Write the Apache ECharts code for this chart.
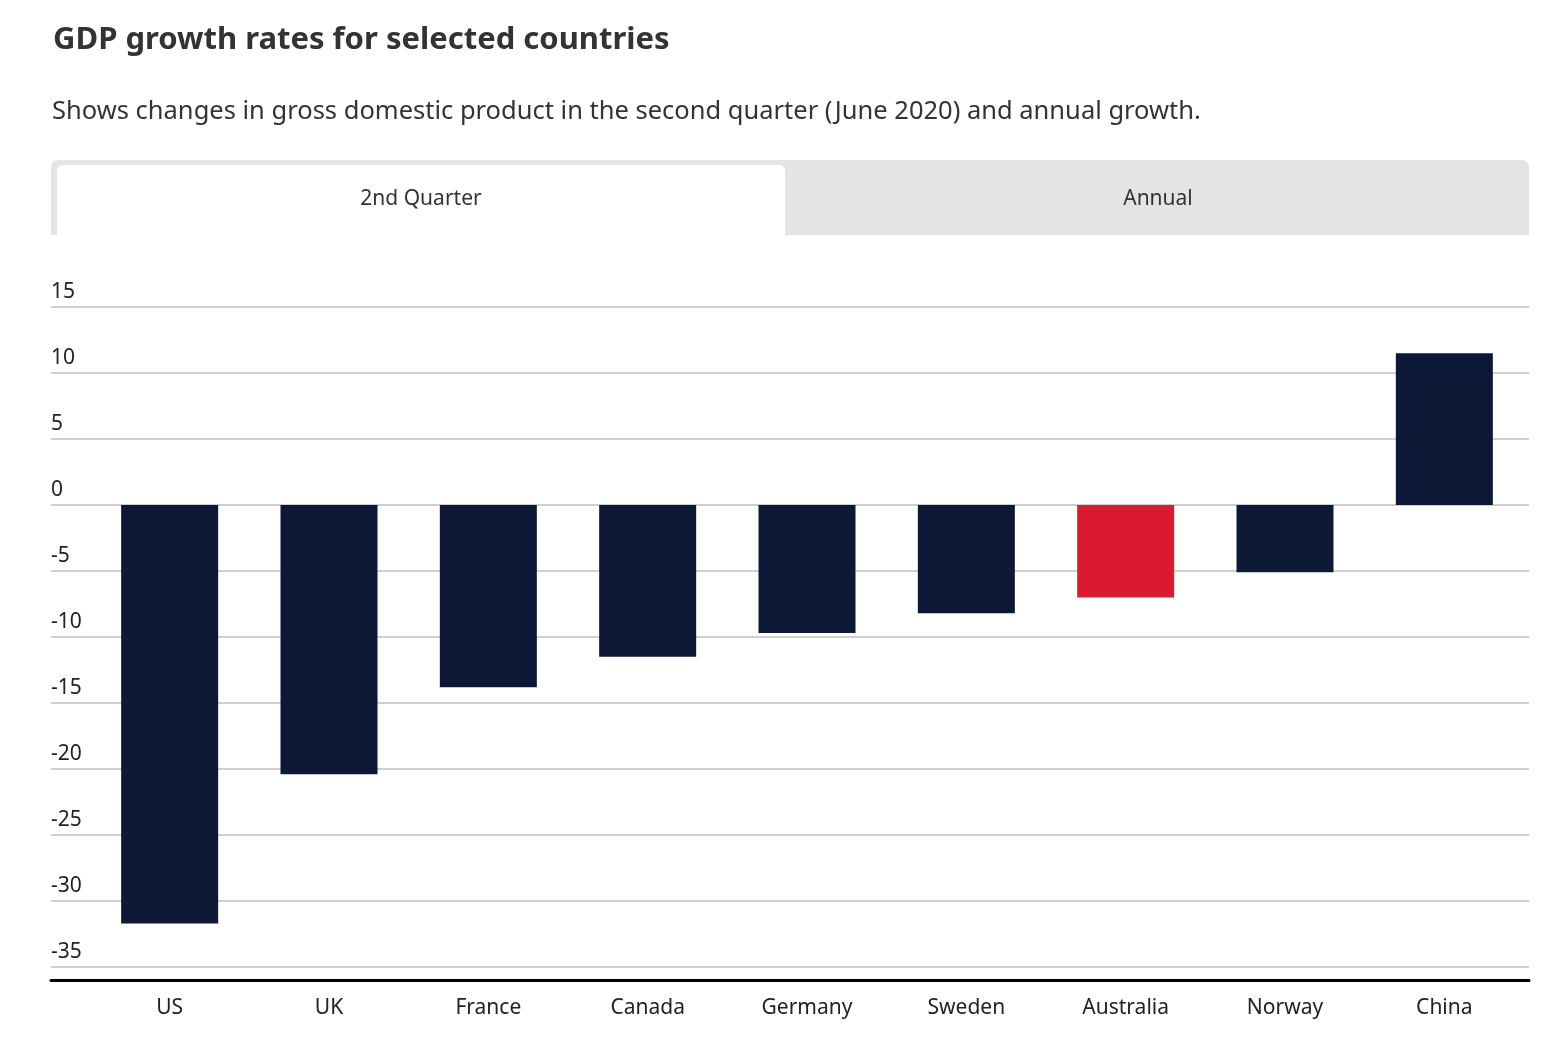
<!DOCTYPE html>
<html>
<head>
<meta charset="utf-8">
<script src="https://cdn.jsdelivr.net/npm/echarts@6/dist/echarts.min.js"></script>
<style>
html,body{margin:0;padding:0;background:#fff;}
#chart{width:1568px;height:1062px;}
</style>
</head>
<body>
<div id="chart"></div>
<script>
const countries = ['US','UK','France','Canada','Germany','Sweden','Australia','Norway','China'];
const quarterGrowth = [-31.7,-20.4,-13.8,-11.5,-9.7,-8.2,-7.0,-5.1,11.5];
const yTicks = [-35,-30,-25,-20,-15,-10,-5,0,5,10,15];
const highlight = 'Australia';

const NAVY = '#0d1836', RED = '#da1a2f';
const FONT = '"Noto Sans", "Open Sans", sans-serif';

const chart = echarts.init(document.getElementById('chart'));
chart.setOption({
  animation: false,
  backgroundColor: '#fff',
  textStyle: {fontFamily: FONT},
  title: [{
    text: 'GDP growth rates for selected countries',
    left: 48, top: 20,
    textStyle: {fontFamily: FONT, fontSize: 31, fontWeight: 'bold', color: '#333'}
  },{
    text: 'Shows changes in gross domestic product in the second quarter (June 2020) and annual growth.',
    left: 47, top: 94,
    textStyle: {fontFamily: FONT, fontSize: 25.5, fontWeight: 'normal', color: '#333'}
  }],
  graphic: [
    {type:'rect', shape:{x:51,y:160,width:1478,height:75,r:[7,7,0,0]}, style:{fill:'#e4e4e4'}, z:0},
    {type:'rect', shape:{x:57,y:165,width:728,height:70,r:[6,6,0,0]}, style:{fill:'#fff'}, z:1},
    {type:'text', x:421, y:199, style:{text:'2nd Quarter', fontFamily:FONT, fontSize:21, fill:'#333', align:'center', verticalAlign:'middle'}, z:2},
    {type:'text', x:1158, y:199, style:{text:'Annual', fontFamily:FONT, fontSize:21, fill:'#333', align:'center', verticalAlign:'middle'}, z:2}
  ],
  grid: [
    {left: 51, right: 39, top: 307, bottom: 95},
    {left: 90, right: 44, top: 307, bottom: 95}
  ],
  xAxis: [{
    gridIndex: 0, type: 'category', data: [''], offset: 13,
    axisLine: {show: true, onZero: false, lineStyle: {color: '#000', width: 3}},
    axisTick: {show: false}, axisLabel: {show: false}, splitLine: {show: false}
  },{
    gridIndex: 1, type: 'category', data: countries,
    axisLine: {show: false, onZero: false}, axisTick: {show: false},
    axisLabel: {margin: 31, fontSize: 21, color: '#222', fontFamily: FONT}
  }],
  yAxis: [{
    gridIndex: 0, type: 'value', min: yTicks[0], max: yTicks[yTicks.length-1], interval: 5,
    axisLine: {show: false}, axisTick: {show: false},
    splitLine: {lineStyle: {color: '#cfcfcf', width: 2}},
    axisLabel: {inside: true, margin: 0, fontSize: 21, color: '#222', verticalAlign: 'bottom', padding: [0,0,4,0], fontFamily: FONT}
  },{
    gridIndex: 1, type: 'value', min: yTicks[0], max: yTicks[yTicks.length-1], interval: 5,
    show: false, splitLine: {show: false}
  }],
  series: [{
    type: 'bar', xAxisIndex: 1, yAxisIndex: 1, barWidth: 97,
    data: quarterGrowth.map((v,i)=>({value:v, itemStyle:{color: countries[i]===highlight ? RED : NAVY}}))
  }]
});
</script>
</body>
</html>
